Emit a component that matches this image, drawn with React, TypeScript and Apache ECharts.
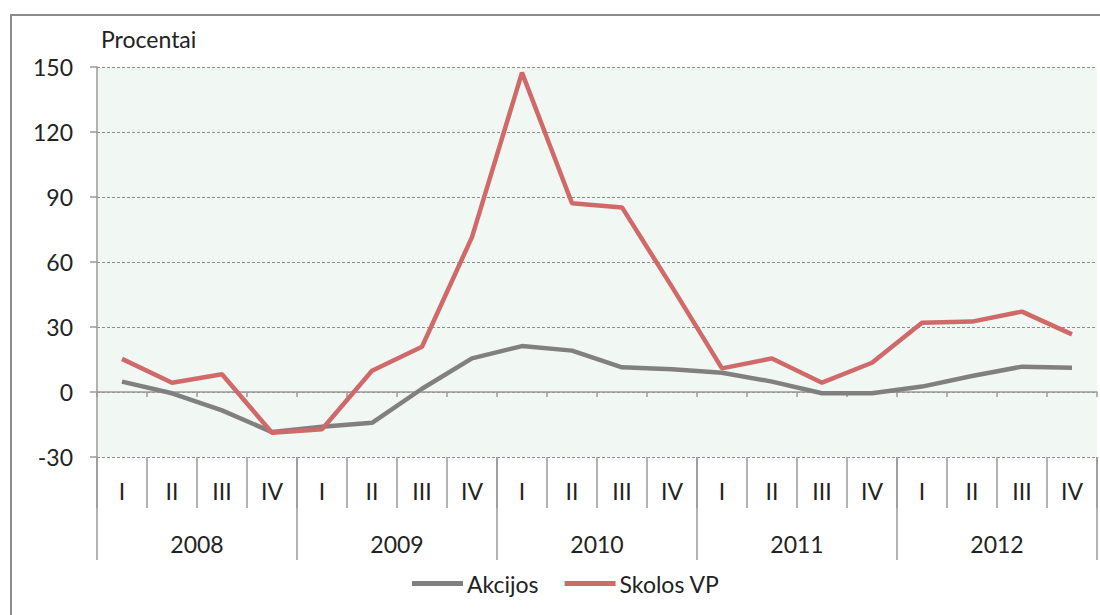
import React, { useEffect, useRef } from "react";
import * as echarts from "echarts";

const quarters = [
  "I", "II", "III", "IV", "I", "II", "III", "IV", "I", "II",
  "III", "IV", "I", "II", "III", "IV", "I", "II", "III", "IV",
];
const years = ["2008", "2009", "2010", "2011", "2012"];
const akcijos = [
  4.8, -0.6, -8.5, -18.5, -16, -14.2, 1.5, 15.5, 21.2, 19.1,
  11.4, 10.5, 8.9, 4.8, -0.6, -0.6, 2.5, 7.4, 11.7, 11.2,
];
const skolosVP = [
  15.3, 4.3, 8.2, -18.8, -17.2, 9.8, 20.9, 71.5, 147.4, 87.1,
  85.2, 48.5, 10.9, 15.5, 4.3, 13.5, 32, 32.5, 37.1, 26.6,
];
const yTicks = { min: -30, max: 150, interval: 30 };

const FONT = "Lato, 'Open Sans', sans-serif";
const FS = 23;
const TXT = "#222222";
const AX = "#9a9a9a";

export default function App() {
  const ref = useRef<HTMLDivElement>(null);
  useEffect(() => {
    document.body.style.margin = "0";
    const chart = echarts.init(ref.current!, null, { renderer: "svg" });
    chart.setOption({
      animation: false,
      textStyle: { fontFamily: FONT },
      graphic: [
        {
          type: "rect",
          shape: { x: 11, y: 15, width: 1110, height: 640 },
          style: { fill: "none", stroke: "#8c8c8c", lineWidth: 2 },
          z: 0,
        },
      ],
      title: {
        text: "Procentai",
        left: 96,
        top: 22,
        textStyle: { fontSize: FS, fontWeight: "normal", color: TXT, fontFamily: FONT },
      },
      legend: {
        left: 407,
        top: 567,
        itemWidth: 51,
        itemHeight: 5,
        itemGap: 26,
        icon: "rect",
        textStyle: { fontSize: FS, color: TXT, fontFamily: FONT, padding: [0, 0, 0, -1] },
        data: ["Akcijos", "Skolos VP"],
      },
      grid: {
        left: 97,
        top: 67,
        width: 1000,
        height: 390,
        show: true,
        backgroundColor: "#f1f7f3",
        borderWidth: 0,
      },
      xAxis: [
        {
          type: "category",
          data: quarters,
          position: "bottom",
          axisLine: { show: false, onZero: false },
          axisTick: { show: true, length: 51, lineStyle: { color: AX, width: 1.5 } },
          axisLabel: { margin: 22, fontSize: FS, color: TXT, fontFamily: FONT },
        },
        {
          type: "category",
          data: years,
          position: "bottom",
          axisLine: { show: false, onZero: false },
          axisTick: { show: true, length: 103, lineStyle: { color: AX, width: 1.5 } },
          axisLabel: { margin: 75, fontSize: FS, color: TXT, fontFamily: FONT },
        },
        {
          type: "category",
          data: quarters,
          position: "bottom",
          axisLine: { show: true, onZero: true, lineStyle: { color: AX, width: 1.5 } },
          axisTick: { show: true, length: 5, lineStyle: { color: AX, width: 1.5 } },
          axisLabel: { show: false },
        },
      ],
      yAxis: {
        type: "value",
        min: yTicks.min,
        max: yTicks.max,
        interval: yTicks.interval,
        axisLine: { show: true, lineStyle: { color: AX, width: 1.5 } },
        axisTick: { show: true, length: 7, lineStyle: { color: AX, width: 1.5 } },
        axisLabel: { margin: 24, fontSize: FS, color: TXT, fontFamily: FONT },
        splitLine: { show: true, lineStyle: { color: "#8f8f8f", type: [3, 2], width: 1 } },
      },
      series: [
        {
          name: "Akcijos",
          type: "line",
          data: akcijos,
          xAxisIndex: 0,
          symbol: "none",
          lineStyle: { color: "#808080", width: 4.5 },
          itemStyle: { color: "#808080" },
          z: 3,
        },
        {
          name: "Skolos VP",
          type: "line",
          data: skolosVP,
          xAxisIndex: 0,
          symbol: "none",
          lineStyle: { color: "#d06a6a", width: 4.5 },
          itemStyle: { color: "#d06a6a" },
          z: 4,
        },
      ],
    });
    return () => chart.dispose();
  }, []);
  return <div ref={ref} style={{ width: 1100, height: 615 }} />;
}
